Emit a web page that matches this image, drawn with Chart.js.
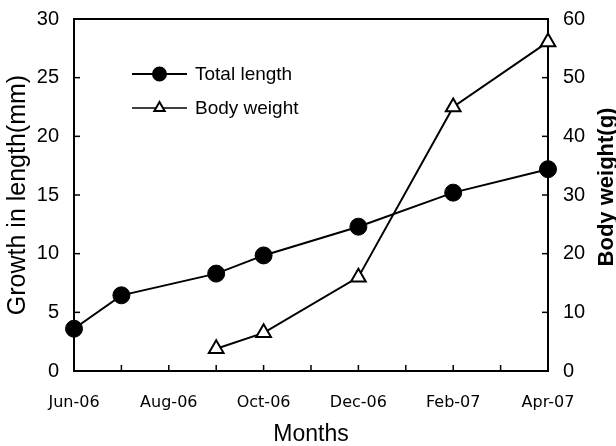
<!DOCTYPE html>
<html>
<head>
<meta charset="utf-8">
<script src="https://cdn.jsdelivr.net/npm/chart.js@4/dist/chart.umd.min.js"></script>
<style>
  html, body { margin: 0; padding: 0; background: #fff; }
  #wrap { width: 616px; height: 446px; position: relative; }
</style>
</head>
<body>
<div id="wrap"><canvas id="c" width="616" height="446"></canvas></div>
<script>
// ---- data ----
const months = ['Jun-06','Jul-06','Aug-06','Sep-06','Oct-06','Nov-06','Dec-06','Jan-07','Feb-07','Mar-07','Apr-07'];
const totalLength = [3.6, 6.45, null, 8.3, 9.85, null, 12.3, null, 15.2, null, 17.2];
const bodyWeight  = [null, null, null, 3.8, 6.5, null, 16.0, null, 45.0, null, 56.1];
const leftTicks  = [0, 5, 10, 15, 20, 25, 30];
const rightTicks = [0, 10, 20, 30, 40, 50, 60];
const seriesNames = ['Total length', 'Body weight'];
const xTitle = 'Months';
const leftTitle = 'Growth in length(mm)';
const rightTitle = 'Body weight(g)';

const tickFont = { family: 'Liberation Sans', size: 20 };

const framePlugin = {
  id: 'frame',
  afterDatasetsDraw(chart) {
    const { ctx, chartArea: a, scales } = chart;
    ctx.save();
    ctx.strokeStyle = '#000';
    ctx.lineWidth = 2;
    // top border
    ctx.beginPath();
    ctx.moveTo(a.left, a.top);
    ctx.lineTo(a.right, a.top);
    ctx.stroke();
    ctx.lineWidth = 1.5;
    // inward x ticks
    scales.x.ticks.forEach((t, i) => {
      const px = scales.x.getPixelForTick(i);
      ctx.beginPath();
      ctx.moveTo(px, a.bottom);
      ctx.lineTo(px, a.bottom - 6);
      ctx.stroke();
    });
    scales.y.ticks.forEach(t => {
      const py = scales.y.getPixelForValue(t.value);
      ctx.beginPath();
      ctx.moveTo(a.left, py);
      ctx.lineTo(a.left + 6, py);
      ctx.stroke();
    });
    scales.y2.ticks.forEach(t => {
      const py = scales.y2.getPixelForValue(t.value);
      ctx.beginPath();
      ctx.moveTo(a.right, py);
      ctx.lineTo(a.right - 6, py);
      ctx.stroke();
    });
    // right axis title, reading bottom-to-top
    ctx.save();
    ctx.translate(613, 187);
    ctx.rotate(-Math.PI / 2);
    ctx.fillStyle = '#000';
    ctx.font = 'bold 22px "Liberation Sans"';
    ctx.textAlign = 'center';
    ctx.textBaseline = 'alphabetic';
    ctx.fillText(rightTitle, 0, 0);
    ctx.restore();
    // legend inside plot
    const lx = a.left + 58, lw = 55;
    const rows = [a.top + 55, a.top + 89];
    chart.data.datasets.forEach((ds, i) => {
      const y = rows[i];
      ctx.strokeStyle = '#000';
      ctx.lineWidth = i === 0 ? 2 : 1.5;
      ctx.beginPath();
      ctx.moveTo(lx, y);
      ctx.lineTo(lx + lw, y);
      ctx.stroke();
      ctx.lineWidth = 2;
      ctx.fillStyle = ds.pointBackgroundColor;
      Chart.helpers.drawPoint(ctx, { pointStyle: ds.pointStyle, radius: i === 0 ? 6.5 : 6, borderWidth: 2 }, lx + lw / 2, y);
      ctx.fillStyle = '#000';
      ctx.font = '19px "Liberation Sans"';
      ctx.textBaseline = 'middle';
      ctx.textAlign = 'left';
      ctx.fillText(ds.label, lx + lw + 8, y + 1);
    });
    ctx.restore();
  }
};

const noPad = s => { s.paddingTop = 0; s.paddingBottom = 0; s.paddingLeft = 0; s.paddingRight = 0; };

new Chart(document.getElementById('c'), {
  type: 'line',
  data: {
    labels: months,
    datasets: [
      {
        label: seriesNames[0],
        data: totalLength,
        yAxisID: 'y',
        borderColor: '#000',
        borderWidth: 2,
        pointStyle: 'circle',
        pointRadius: 8.5,
        pointBackgroundColor: '#000',
        pointBorderColor: '#000',
        pointBorderWidth: 1,
        spanGaps: true,
        tension: 0,
        clip: false
      },
      {
        label: seriesNames[1],
        data: bodyWeight,
        yAxisID: 'y2',
        borderColor: '#000',
        borderWidth: 2,
        pointStyle: 'triangle',
        pointRadius: 8.5,
        pointBackgroundColor: '#fff',
        pointBorderColor: '#000',
        pointBorderWidth: 2,
        spanGaps: true,
        tension: 0,
        clip: false
      }
    ]
  },
  options: {
    responsive: false,
    animation: false,
    devicePixelRatio: 1,
    layout: { padding: { top: 19, left: 0, right: 0, bottom: 0 } },
    plugins: { legend: { display: false }, tooltip: { enabled: false } },
    scales: {
      x: {
        type: 'category',
        offset: false,
        grid: { display: false, drawTicks: false },
        border: { display: true, color: '#000', width: 2 },
        ticks: {
          autoSkip: false,
          maxRotation: 0,
          padding: 22,
          color: '#000',
          font: { family: 'DejaVu Sans', size: 16 },
          callback: (v, i) => (i % 2 === 0 ? months[i] : '')
        },
        title: { display: true, text: xTitle, color: '#000', font: { family: 'Liberation Sans', size: 23, lineHeight: 1 }, padding: { top: 0, bottom: 0 } },
        afterFit: s => { s.height = 75; noPad(s); }
      },
      y: {
        position: 'left',
        min: 0, max: 30,
        afterBuildTicks: s => { s.ticks = leftTicks.map(v => ({ value: v })); },
        grid: { display: false, drawTicks: false },
        border: { display: true, color: '#000', width: 2 },
        ticks: { padding: 15, color: '#000', font: tickFont },
        title: { display: true, text: leftTitle, color: '#000', font: { family: 'Liberation Sans', size: 25 }, padding: { top: 3, bottom: 0 } },
        afterFit: s => { s.width = 74; noPad(s); }
      },
      y2: {
        position: 'right',
        min: 0, max: 60,
        afterBuildTicks: s => { s.ticks = rightTicks.map(v => ({ value: v })); },
        grid: { display: false, drawTicks: false },
        border: { display: true, color: '#000', width: 2 },
        ticks: { padding: 15, color: '#000', font: tickFont },
        title: { display: false },
        afterFit: s => { s.width = 68; noPad(s); }
      }
    }
  },
  plugins: [framePlugin]
});
</script>
</body>
</html>
